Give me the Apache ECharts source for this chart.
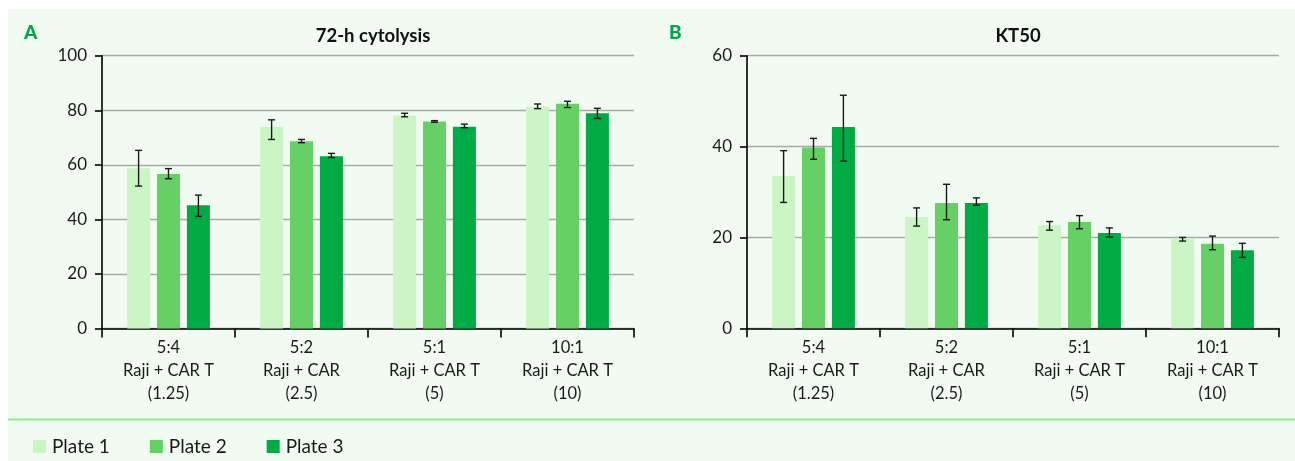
<!DOCTYPE html>
<html>
<head>
<meta charset="utf-8">
<title>72-h cytolysis and KT50</title>
<script src="https://cdn.jsdelivr.net/npm/echarts@6/dist/echarts.min.js"></script>
<style>
  html, body { margin: 0; padding: 0; background: #ffffff; }
  #chart { width: 1295px; height: 461px; }
</style>
</head>
<body>
<div id="chart"></div>
<script>
// Effector:target ratios (category labels)
const categories = [
  '5:4\nRaji + CAR T\n(1.25)',
  '5:2\nRaji + CAR\n(2.5)',
  '5:1\nRaji + CAR T\n(5)',
  '10:1\nRaji + CAR T\n(10)'
];
const plates = ['Plate 1', 'Plate 2', 'Plate 3'];

// Panel A: 72-h cytolysis (%)
const cytoPlate1 = [58.7, 74.0, 78.1, 81.4];
const cytoPlate2 = [56.6, 68.6, 75.9, 82.4];
const cytoPlate3 = [45.2, 63.1, 74.0, 78.9];
const cytoLow1 = [52.2, 69.3, 77.6, 80.6];
const cytoHigh1 = [65.3, 76.5, 78.9, 82.3];
const cytoLow2 = [54.9, 68.1, 75.6, 81.0];
const cytoHigh2 = [58.6, 69.3, 76.2, 83.3];
const cytoLow3 = [41.1, 62.7, 73.6, 77.0];
const cytoHigh3 = [48.9, 64.2, 74.9, 80.7];

// Panel B: KT50
const ktPlate1 = [33.5, 24.5, 22.7, 19.7];
const ktPlate2 = [39.8, 27.6, 23.4, 18.6];
const ktPlate3 = [44.3, 27.6, 21.0, 17.2];
const ktLow1 = [27.7, 22.5, 21.6, 19.2];
const ktHigh1 = [39.1, 26.5, 23.5, 20.0];
const ktLow2 = [37.2, 23.9, 21.9, 17.3];
const ktHigh2 = [41.8, 31.7, 24.8, 20.3];
const ktLow3 = [36.8, 27.1, 20.1, 15.6];
const ktHigh3 = [51.3, 28.7, 22.1, 18.7];

// y-axis ticks
const cytoAxis = { min: 0, max: 100, interval: 20 };
const ktAxis = { min: 0, max: 60, interval: 20 };

const plateColors = ['#ccf5c6', '#66cf66', '#00aa45'];
const BAR_WIDTH = 23;
const BAR_GAP = 0.3;

const font = 'Lato, "Open Sans", sans-serif';

function errorItems(lows, highs) {
  const items = [];
  lows.forEach((lo, p) => {
    lo.forEach((v, i) => items.push([i, v, highs[p][i], p]));
  });
  return items;
}

// Whiskers are drawn centred on the matching bar of each group
function renderError(params, api) {
  const cat = api.value(0);
  const plate = api.value(3);
  const step = BAR_WIDTH * (1 + BAR_GAP);
  const dx = (plate - 1) * step;
  const lo = api.coord([cat, api.value(1)]);
  const hi = api.coord([cat, api.value(2)]);
  const x = lo[0] + dx;
  const cap = 3.5;
  const style = { stroke: '#1a1a1a', lineWidth: 1.4 };
  return {
    type: 'group',
    children: [
      { type: 'line', shape: { x1: x, y1: hi[1], x2: x, y2: lo[1] }, style },
      { type: 'line', shape: { x1: x - cap, y1: hi[1], x2: x + cap, y2: hi[1] }, style },
      { type: 'line', shape: { x1: x - cap, y1: lo[1], x2: x + cap, y2: lo[1] }, style }
    ]
  };
}

function xAxisFor(gridIndex) {
  return {
    type: 'category',
    gridIndex,
    data: categories,
    boundaryGap: true,
    axisLine: { lineStyle: { color: '#000', width: 1.6 } },
    axisTick: { show: true, length: 9, lineStyle: { color: '#000', width: 1.6 } },
    axisLabel: {
      interval: 0,
      margin: 8,
      color: '#1a1a1a',
      fontFamily: font,
      fontSize: 16.5,
      lineHeight: 23
    }
  };
}

function yAxisFor(gridIndex, spec) {
  return {
    type: 'value',
    gridIndex,
    min: spec.min,
    max: spec.max,
    interval: spec.interval,
    axisLine: { show: true, lineStyle: { color: '#000', width: 1.6 } },
    axisTick: { show: true, length: 7, lineStyle: { color: '#000', width: 1.6 } },
    axisLabel: { margin: 15, color: '#1a1a1a', fontFamily: font, fontSize: 17 },
    splitLine: { show: true, lineStyle: { color: '#a8aca8', width: 1.4 } }
  };
}

function barSeries(name, data, idx, axisIdx) {
  return {
    name,
    type: 'bar',
    xAxisIndex: axisIdx,
    yAxisIndex: axisIdx,
    data,
    barWidth: BAR_WIDTH,
    barGap: (BAR_GAP * 100) + '%',
    itemStyle: { color: plateColors[idx] },
    z: 2
  };
}

const chart = echarts.init(document.getElementById('chart'), null, { renderer: 'canvas' });

chart.setOption({
  animation: false,
  backgroundColor: '#ffffff',
  graphic: [
    { type: 'rect', z: -10, shape: { x: 8, y: 9, width: 1287, height: 452 }, style: { fill: '#f1fbf1' } },
    { type: 'line', z: -9, shape: { x1: 8, y1: 419.5, x2: 1295, y2: 419.5 }, style: { stroke: '#a6e89e', lineWidth: 2.5 } },
    { type: 'text', left: 24, top: 23, style: { text: 'A', font: '900 19px Lato, sans-serif', fill: '#00a84a' } },
    { type: 'text', left: 669, top: 23, style: { text: 'B', font: '900 19px Lato, sans-serif', fill: '#00a84a' } }
  ],
  title: [
    {
      text: '72-h cytolysis',
      left: 368, top: 22, textAlign: 'center',
      textStyle: { fontFamily: font, fontWeight: 'bold', fontSize: 18.5, color: '#111' }
    },
    {
      text: 'KT50',
      left: 1013, top: 22, textAlign: 'center',
      textStyle: { fontFamily: font, fontWeight: 'bold', fontSize: 18.5, color: '#111' }
    }
  ],
  legend: {
    data: plates,
    left: 28,
    top: 432,
    icon: 'rect',
    itemWidth: 13,
    itemHeight: 13,
    itemGap: 40,
    textStyle: { fontFamily: font, fontSize: 19, color: '#1a1a1a', width: 60, padding: [0, 0, 0, 1] },
    selectedMode: false
  },
  grid: [
    { left: 102, right: 661, top: 55.7, bottom: 132.5 },
    { left: 747, right: 16, top: 55.7, bottom: 132.7 }
  ],
  xAxis: [xAxisFor(0), xAxisFor(1)],
  yAxis: [yAxisFor(0, cytoAxis), yAxisFor(1, ktAxis)],
  series: [
    barSeries(plates[0], cytoPlate1, 0, 0),
    barSeries(plates[1], cytoPlate2, 1, 0),
    barSeries(plates[2], cytoPlate3, 2, 0),
    barSeries(plates[0], ktPlate1, 0, 1),
    barSeries(plates[1], ktPlate2, 1, 1),
    barSeries(plates[2], ktPlate3, 2, 1),
    {
      type: 'custom',
      xAxisIndex: 0,
      yAxisIndex: 0,
      renderItem: renderError,
      encode: { x: 0, y: [1, 2] },
      data: errorItems([cytoLow1, cytoLow2, cytoLow3], [cytoHigh1, cytoHigh2, cytoHigh3]),
      z: 5
    },
    {
      type: 'custom',
      xAxisIndex: 1,
      yAxisIndex: 1,
      renderItem: renderError,
      encode: { x: 0, y: [1, 2] },
      data: errorItems([ktLow1, ktLow2, ktLow3], [ktHigh1, ktHigh2, ktHigh3]),
      z: 5
    }
  ]
});
</script>
</body>
</html>
